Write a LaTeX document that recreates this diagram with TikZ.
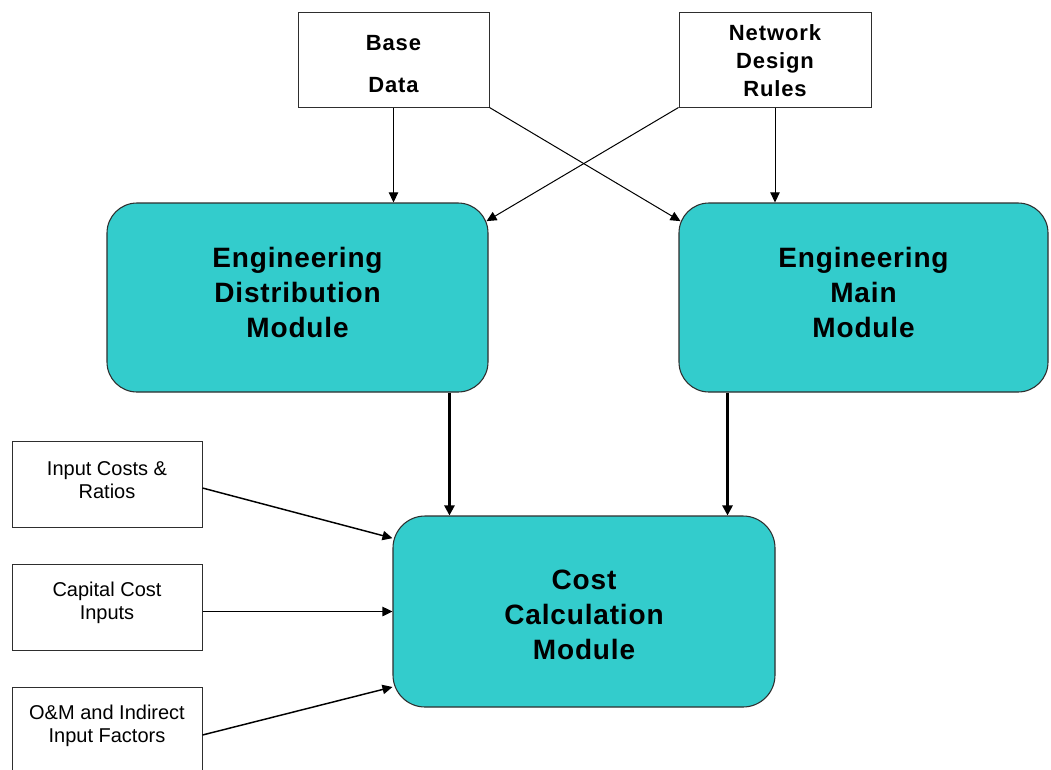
\documentclass[tikz,border=0pt]{standalone}
\usepackage{fontspec}
\setmainfont{Liberation Sans}
\usetikzlibrary{arrows.meta,fit}
\definecolor{modfill}{HTML}{33CCCC}
\definecolor{edgecol}{HTML}{2E2E2E}
\begin{document}
\begin{tikzpicture}[x=0.75pt,y=-0.75pt,
  module/.style={draw=edgecol, line width=0.8pt, fill=modfill, rounded corners=22.5pt, inner sep=0pt},
  inbox/.style={draw=edgecol, line width=0.75pt, fill=white, inner sep=0pt},
  modtext/.style={align=center, font=\fontsize{21}{26.3}\selectfont\bfseries\addfontfeature{LetterSpace=3}},
  toptextA/.style={align=center, font=\fontsize{16.5}{31.5}\selectfont\bfseries\addfontfeature{LetterSpace=4}},
  toptextB/.style={align=center, font=\fontsize{16.5}{21}\selectfont\bfseries\addfontfeature{LetterSpace=4}},
  lefttext/.style={align=center, font=\fontsize{15}{17.5}\selectfont},
  thinarrow/.style={draw=black, line width=0.75pt, -{Triangle[length=7.5pt,width=7pt]}},
  midarrow/.style={draw=black, line width=1.1pt, -{Triangle[length=7.5pt,width=7pt]}},
  bigarrow/.style={draw=black, line width=1.8pt, -{Triangle[length=7.5pt,width=7.5pt]}}
]
\clip (0,0) rectangle (1051,769);
\fill[white] (0,0) rectangle (1051,769);

% top input boxes
\node[inbox, fit={(298,12) (489,107)},
      label={[toptextA, yshift=-3.4pt]center:{Base\\Data}}] (base) {};
\node[inbox, fit={(679,12) (871,107)},
      label={[toptextB, yshift=-1pt]center:{Network\\Design\\Rules}}] (net) {};

% modules
\node[module, fit={(107,203) (488,392)},
      label={[modtext, yshift=4pt]center:{Engineering\\Distribution\\Module}}] (edist) {};
\node[module, fit={(679,203) (1048,392)},
      label={[modtext, yshift=4pt]center:{Engineering\\Main\\Module}}] (emain) {};
\node[module, rounded corners=24pt, fit={(393,516) (775,707)},
      label={[modtext, yshift=-2.5pt]center:{Cost\\Calculation\\Module}}] (cost) {};

% left input boxes
\node[inbox, fit={(12,441) (202,527)},
      label={[lefttext, yshift=3pt]center:{Input Costs \&\\Ratios}}] (in1) {};
\node[inbox, fit={(12,564) (202,650)},
      label={[lefttext, yshift=3pt]center:{Capital Cost\\Inputs}}] (in2) {};
\node[inbox, fit={(12,687) (202,773)},
      label={[lefttext, yshift=3pt]center:{O\&M and Indirect\\Input Factors}}] (in3) {};

% connectors from top boxes
\draw[thinarrow] (base.south) -- (base.south |- edist.north);
\draw[thinarrow] (net.south) -- (net.south |- emain.north);
\draw[thinarrow] (base.south east) -- ([xshift=1.5pt,yshift=-14pt]emain.north west);
\draw[thinarrow] (net.south west) -- ([xshift=-1.5pt,yshift=-14pt]edist.north east);

% modules to cost
\coordinate (d1) at ([xshift=42.75pt]cost.north west);
\coordinate (d2) at ([xshift=-36pt]cost.north east);
\draw[bigarrow] (d1 |- edist.south) -- (d1);
\draw[bigarrow] (d2 |- emain.south) -- (d2);

% left inputs to cost
\draw[midarrow] ([yshift=-3pt]in1.east) -- ([yshift=55pt]cost.west);
\draw[midarrow] (in2.east |- cost.west) -- (cost.west);
\draw[midarrow] ([yshift=-3.75pt]in3.east) -- ([yshift=-56.6pt]cost.west);
\end{tikzpicture}
\end{document}
